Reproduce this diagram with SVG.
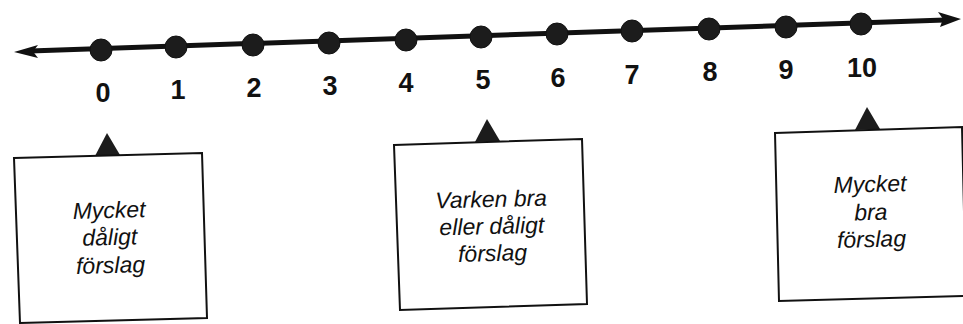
<svg xmlns="http://www.w3.org/2000/svg" width="963" height="324" viewBox="0 0 963 324">
<style>
.dot{fill:#1c1c1c;stroke:#111;stroke-width:1}
.num{font-family:"Liberation Sans",Arial,sans-serif;font-weight:bold;font-size:27px;fill:#111;text-anchor:middle}
.box{fill:#fff;stroke:#111;stroke-width:2;stroke-linejoin:miter}
.tri{fill:#1c1c1c}
.lbl{font-family:"Liberation Sans",Arial,sans-serif;font-style:italic;font-size:23px;fill:#111;text-anchor:middle}
</style>
<rect width="963" height="324" fill="#fff"/>
<g id="connectors">
<path d="M30 51 L945 20" stroke="#111" stroke-width="5" fill="none"/>
<polygon points="14,52 38,45 33,51.5 38,58" fill="#111"/>
<polygon points="961,19 938,12 943,19 940,27" fill="#111"/>
</g>
<g id="ticks">
<g id="t0"><circle class="dot" cx="101" cy="50" r="11"/><text class="num" x="103" y="102">0</text></g>
<g id="t1"><circle class="dot" cx="176" cy="47" r="11"/><text class="num" x="178" y="99">1</text></g>
<g id="t2"><circle class="dot" cx="253" cy="45" r="11"/><text class="num" x="254" y="97">2</text></g>
<g id="t3"><circle class="dot" cx="329" cy="43" r="11"/><text class="num" x="330" y="95">3</text></g>
<g id="t4"><circle class="dot" cx="406" cy="40" r="11"/><text class="num" x="406" y="92">4</text></g>
<g id="t5"><circle class="dot" cx="481" cy="37" r="11"/><text class="num" x="483" y="89">5</text></g>
<g id="t6"><circle class="dot" cx="557" cy="34" r="11"/><text class="num" x="558" y="87">6</text></g>
<g id="t7"><circle class="dot" cx="632" cy="31" r="11"/><text class="num" x="632" y="84">7</text></g>
<g id="t8"><circle class="dot" cx="709" cy="29" r="11"/><text class="num" x="710" y="81">8</text></g>
<g id="t9"><circle class="dot" cx="786" cy="27" r="11"/><text class="num" x="786" y="79">9</text></g>
<g id="t10"><circle class="dot" cx="861" cy="24" r="11"/><text class="num" x="862" y="77">10</text></g>
</g>
<g id="box-low">
<polygon class="tri" points="107,133 95,156 120,155"/>
<polygon class="box" points="14,158 202,153 207,318 20,323"/>
<g transform="rotate(-1.5 110 245)">
<text class="lbl" x="110" y="218">Mycket</text>
<text class="lbl" x="110" y="245">dåligt</text>
<text class="lbl" x="110" y="273">förslag</text>
</g>
</g>
<g id="box-mid">
<polygon class="tri" points="487,119 475,142 500,141"/>
<polygon class="box" points="394,145 582,139 587,304 400,310"/>
<g transform="rotate(-1.5 492 233)">
<text class="lbl" x="492" y="207">Varken bra</text>
<text class="lbl" x="492" y="234">eller dåligt</text>
<text class="lbl" x="492" y="261">förslag</text>
</g>
</g>
<g id="box-high">
<polygon class="tri" points="867,107 855,130 880,129"/>
<polygon class="box" points="775,133 962,127 966,296 779,301"/>
<g transform="rotate(-1.5 871 220)">
<text class="lbl" x="871" y="192">Mycket</text>
<text class="lbl" x="871" y="220">bra</text>
<text class="lbl" x="871" y="247">förslag</text>
</g>
</g>
</svg>
